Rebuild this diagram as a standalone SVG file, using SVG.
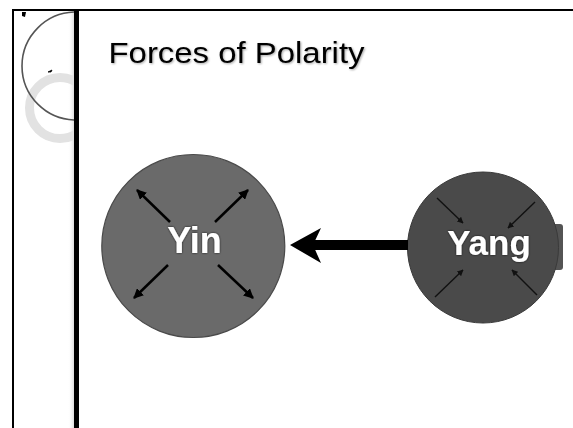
<svg xmlns="http://www.w3.org/2000/svg" width="573" height="428" viewBox="0 0 573 428">
  <style>
    .title { font-family: "Liberation Sans", Arial, sans-serif; font-size: 29px; fill: #000; }
    .label { font-family: "Liberation Sans", Arial, sans-serif; font-weight: bold; fill: #fff; text-anchor: middle; }
    .thick { stroke: #000; stroke-width: 2.5; fill: none; }
    .thin { stroke: #111; stroke-width: 1.4; fill: none; }
  </style>
  <defs>
    <marker id="headBig" viewBox="0 0 10 10" refX="9" refY="5" markerWidth="4" markerHeight="4" orient="auto" markerUnits="strokeWidth">
      <path d="M0,0 L10,5 L0,10 Z" fill="#000"/>
    </marker>
    <marker id="headSmall" viewBox="0 0 10 10" refX="9" refY="5" markerWidth="4.5" markerHeight="4.5" orient="auto" markerUnits="strokeWidth">
      <path d="M0,0 L10,5 L0,10 Z" fill="#111"/>
    </marker>
    <clipPath id="strip">
      <rect x="14" y="11" width="60" height="417"/>
    </clipPath>
    <linearGradient id="barShade" x1="0" y1="0" x2="1" y2="0">
      <stop offset="0" stop-color="#fff" stop-opacity="0"/>
      <stop offset="1" stop-color="#ddd"/>
    </linearGradient>
    <filter id="soft" x="-10%" y="-20%" width="120%" height="140%">
      <feGaussianBlur in="SourceAlpha" stdDeviation="1"/>
      <feOffset dx="0.5" dy="1" result="b"/>
      <feComponentTransfer><feFuncA type="linear" slope="0.35"/></feComponentTransfer>
      <feMerge><feMergeNode/><feMergeNode in="SourceGraphic"/></feMerge>
    </filter>
    <filter id="glow" x="-10%" y="-20%" width="120%" height="140%">
      <feGaussianBlur in="SourceAlpha" stdDeviation="1.2"/>
      <feComponentTransfer><feFuncA type="linear" slope="0.8"/></feComponentTransfer>
      <feMerge><feMergeNode/><feMergeNode in="SourceGraphic"/></feMerge>
    </filter>
  </defs>

  <rect width="573" height="428" fill="#fff"/>

  <g id="frame">
    <rect x="68" y="11" width="6" height="417" fill="url(#barShade)"/>
    <g clip-path="url(#strip)">
      <circle cx="60" cy="108" r="30.5" fill="none" stroke="#e2e2e2" stroke-width="9"/>
      <circle cx="76" cy="66" r="54" fill="none" stroke="#555" stroke-width="1.6"/>
    </g>
    <path d="M22,12 L26,12 L25,17 L22,16 Z" fill="#000"/>
    <path d="M48,72 L52,70 L51,72 Z" fill="#000" stroke="#000" stroke-width="0.8"/>
    <line x1="13" y1="10" x2="573" y2="10" stroke="#000" stroke-width="2"/>
    <line x1="13" y1="9" x2="13" y2="428" stroke="#000" stroke-width="2"/>
    <rect x="74" y="9" width="5" height="419" fill="#000"/>
  </g>

  <g id="title">
    <text class="title" x="108.5" y="62.5" textLength="256" lengthAdjust="spacingAndGlyphs" filter="url(#soft)">Forces of Polarity</text>
  </g>

  <g id="yang">
    <rect x="552" y="224" width="11" height="46" rx="3" fill="#545454"/>
    <circle cx="483" cy="247.5" r="75.5" fill="#4a4a4a" stroke="#3a3a3a" stroke-width="1"/>
    <line class="thin" x1="437" y1="198" x2="463" y2="223" marker-end="url(#headSmall)"/>
    <line class="thin" x1="535" y1="202" x2="508" y2="228" marker-end="url(#headSmall)"/>
    <line class="thin" x1="435" y1="297" x2="463" y2="270" marker-end="url(#headSmall)"/>
    <line class="thin" x1="537" y1="295" x2="512" y2="270" marker-end="url(#headSmall)"/>
    <text class="label" x="489" y="255" font-size="35" filter="url(#glow)">Yang</text>
  </g>

  <g id="yin">
    <circle cx="193.3" cy="246" r="91.5" fill="#6a6a6a" stroke="#4a4a4a" stroke-width="1.2"/>
    <line class="thick" x1="170" y1="222" x2="137" y2="190" marker-end="url(#headBig)"/>
    <line class="thick" x1="215" y1="222" x2="248" y2="190" marker-end="url(#headBig)"/>
    <line class="thick" x1="168" y1="265" x2="134" y2="298" marker-end="url(#headBig)"/>
    <line class="thick" x1="218" y1="265" x2="253" y2="298" marker-end="url(#headBig)"/>
    <text class="label" x="194.5" y="253" font-size="36" filter="url(#glow)">Yin</text>
  </g>

  <g id="connectors">
    <rect x="312" y="240" width="96" height="10" fill="#000"/>
    <path d="M290,245 L321,228 L313,245 L321,263 Z" fill="#000"/>
  </g>
</svg>
